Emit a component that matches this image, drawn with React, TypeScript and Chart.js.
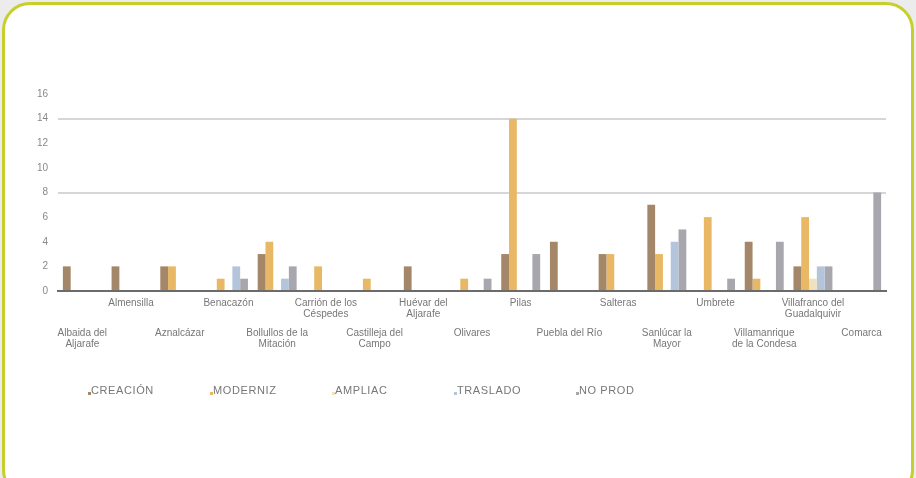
import React, { useEffect, useRef } from "react";
import { Chart, registerables } from "chart.js";

Chart.register(...registerables);

const categories: string[][] = [
  ["Albaida del", "Aljarafe"],
  ["Almensilla"],
  ["Aznalcázar"],
  ["Benacazón"],
  ["Bollullos de la", "Mitación"],
  ["Carrión de los", "Céspedes"],
  ["Castilleja del", "Campo"],
  ["Huévar del", "Aljarafe"],
  ["Olivares"],
  ["Pilas"],
  ["Puebla del Río"],
  ["Salteras"],
  ["Sanlúcar la", "Mayor"],
  ["Umbrete"],
  ["Villamanrique", "de la Condesa"],
  ["Villafranco del", "Guadalquivir"],
  ["Comarca"],
];

const seriesNames = ["CREACIÓN", "MODERNIZ", "AMPLIAC", "TRASLADO", "NO PROD"];
const creacion = [2, 2, 2, 0, 3, 0, 0, 2, 0, 3, 4, 3, 7, 0, 4, 2, 0];
const moderniz = [0, 0, 2, 1, 4, 2, 1, 0, 1, 14, 0, 3, 3, 6, 1, 6, 0];
const ampliac = [0, 0, 0, 0, 0, 0, 0, 0, 0, 0, 0, 0, 0, 0, 0, 1, 0];
const traslado = [0, 0, 0, 2, 1, 0, 0, 0, 0, 0, 0, 0, 4, 0, 0, 2, 0];
const noProd = [0, 0, 0, 1, 2, 0, 0, 0, 1, 3, 0, 0, 5, 1, 4, 2, 8];
const yTicks = [0, 2, 4, 6, 8, 10, 12, 14, 16];
const gridValues = [8, 14];

const seriesColors = ["#a48768", "#e8b865", "#efe2c0", "#b4c4da", "#a8a7ad"];

const legendPlugin = {
  id: "fixedLegend",
  afterDraw(chart: any) {
    const ctx = chart.ctx;
    ctx.save();
    ctx.font = "11px 'Liberation Sans', sans-serif";
    try {
      (ctx as any).letterSpacing = "0.6px";
    } catch (e) {}
    ctx.textBaseline = "middle";
    chart.data.datasets.forEach((ds: any, i: number) => {
      const x = 88 + i * 122;
      const y = 391;
      ctx.fillStyle = ds.backgroundColor;
      ctx.fillRect(x, y + 1, 3, 3);
      ctx.fillStyle = "#777";
      ctx.fillText(ds.label, x + 3, y);
    });
    ctx.restore();
  },
};

const labelFont = { family: "'Liberation Sans', sans-serif", size: 10, lineHeight: 1.15 };

export default function App() {
  const ref = useRef<HTMLCanvasElement>(null);
  useEffect(() => {
    if (!ref.current) return;
    const values = [creacion, moderniz, ampliac, traslado, noProd];
    const labels = categories.map((c) => c.join(" "));
    const chart = new Chart(ref.current, {
      type: "bar",
      data: {
        labels,
        datasets: seriesNames.map((name, i) => ({
          label: name,
          data: values[i],
          backgroundColor: seriesColors[i],
          borderWidth: 0,
          categoryPercentage: 0.8,
          barPercentage: 1.0,
        })),
      },
      options: {
        animation: false,
        responsive: false,
        maintainAspectRatio: false,
        layout: { padding: { left: 0, right: 30, top: 94, bottom: 0 } },
        plugins: { legend: { display: false }, tooltip: { enabled: false } },
        scales: {
          x: {
            type: "category",
            position: "bottom",
            weight: 0,
            grid: { display: false, drawTicks: false },
            border: { display: true, color: "#6b6b6b", width: 2 },
            ticks: {
              autoSkip: false,
              maxRotation: 0,
              minRotation: 0,
              padding: 6,
              color: "#777",
              font: labelFont,
              callback: (_v: any, i: number) => (i % 2 === 1 ? categories[i] : ""),
            },
            afterFit: (s: any) => {
              s.height = 30;
            },
          },
          x2: {
            type: "category",
            position: "bottom",
            weight: 1,
            grid: { display: false, drawTicks: false },
            border: { display: false },
            ticks: {
              autoSkip: false,
              maxRotation: 0,
              minRotation: 0,
              padding: 6,
              color: "#777",
              font: labelFont,
              callback: (_v: any, i: number) => (i % 2 === 0 ? categories[i] : ""),
            },
            afterFit: (s: any) => {
              s.height = 157;
            },
          },
          y: {
            min: 0,
            max: 16,
            afterBuildTicks: (s: any) => {
              s.ticks = yTicks.map((v) => ({ value: v }));
            },
            grid: {
              drawTicks: false,
              lineWidth: 2,
              color: (c: any) =>
                c.tick && gridValues.includes(c.tick.value) ? "#d6d6d6" : "rgba(0,0,0,0)",
            },
            border: { display: false },
            ticks: {
              padding: 10,
              color: "#888",
              font: { family: "'Liberation Sans', sans-serif", size: 10 },
            },
            afterFit: (s: any) => {
              s.width = 58;
            },
          },
        },
      },
      plugins: [legendPlugin],
    });
    return () => chart.destroy();
  }, []);

  return (
    <div
      style={{
        position: "fixed",
        left: 0,
        top: 0,
        width: 916,
        height: 478,
        background: "#ececec",
        overflow: "hidden",
      }}
    >
      <div
        style={{
          position: "absolute",
          left: 2,
          top: 2,
          width: 906,
          height: 490,
          border: "3px solid #c6cf2c",
          borderRadius: 28,
          background: "#ffffff",
        }}
      />
      <canvas
        ref={ref}
        width={916}
        height={478}
        style={{ position: "absolute", left: 0, top: 0, width: 916, height: 478 }}
      />
    </div>
  );
}
